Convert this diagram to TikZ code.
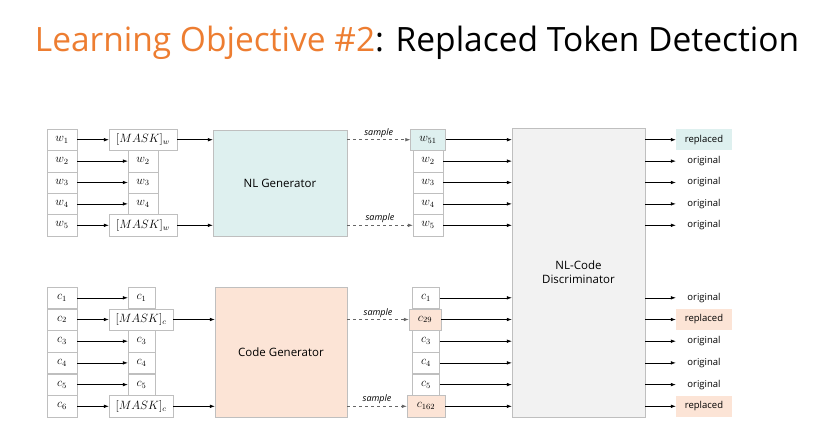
\documentclass[tikz,border=0pt]{standalone}
\usepackage{fontspec}
\setmainfont{Open Sans}
\usetikzlibrary{arrows.meta}

\definecolor{nlfill}{HTML}{DEF0EF}
\definecolor{codefill}{HTML}{FCE4D6}
\definecolor{discfill}{HTML}{F2F2F2}
\definecolor{boxgray}{HTML}{BFBFBF}
\definecolor{titleorange}{HTML}{ED7D31}

\begin{document}
\begin{tikzpicture}[x=1pt, y=-1pt,
    tok/.style={draw=boxgray, fill=white, minimum width=30pt, minimum height=21.5pt, inner sep=0pt, font=\fontsize{12}{14}\selectfont},
    gen/.style={draw=boxgray, inner sep=0pt, font=\fontsize{11.5}{13}\selectfont},
    outlab/.style={minimum width=56pt, minimum height=21pt, inner sep=0pt, font=\fontsize{9.5}{11}\selectfont},
    arr/.style={-{Latex[length=5pt,width=3.6pt]}, line width=0.6pt},
    smp/.style={arr, dashed, draw=gray!80!black},
    smplab/.style={above, inner sep=2pt, font=\fontsize{9}{10}\itshape}]
    \useasboundingbox (0,0) rectangle (830,421);

    % Title
    \node[font=\fontsize{33.5}{40}\selectfont] (title) at (417,43)
        {\textcolor{titleorange}{Learning Objective \#2}: Replaced Token Detection};

    % NL tokens
    \foreach \i/\y in {1/139.7,2/161.1,3/182.5,4/203.9,5/225.3}
        \node[tok] (w\i) at (62,\y) {$w_{\i}$};
    \node[tok, minimum width=68pt] (mw1) at (143,139.7) {$[MASK]_w$};
    \foreach \i/\y in {2/161.1,3/182.5,4/203.9}
        \node[tok] (mw\i) at (143,\y) {$w_{\i}$};
    \node[tok, minimum width=68pt] (mw5) at (143,225.3) {$[MASK]_w$};
    \node[gen, fill=nlfill, minimum width=134pt, minimum height=106pt] (gw) at (280,183) {NL Generator};

    % Code tokens
    \foreach \i/\y in {1/297.8,2/319.5,3/341.2,4/362.9,5/384.6,6/406.3}
        \node[tok] (c\i) at (62,\y) {$c_{\i}$};
    \foreach \i/\y in {1/297.8,3/341.2,4/362.9,5/384.6}
        \node[tok, minimum width=27pt] (mc\i) at (141.5,\y) {$c_{\i}$};
    \node[tok, minimum width=64pt] (mc2) at (141,319.5) {$[MASK]_c$};
    \node[tok, minimum width=64pt] (mc6) at (141,406.3) {$[MASK]_c$};
    \node[gen, fill=codefill, minimum width=132pt, minimum height=130pt] (gc) at (281,352) {Code Generator};

    % Sampled tokens
    \node[tok, fill=nlfill, minimum width=35pt] (sw1) at (428,139.7) {$w_{51}$};
    \foreach \i/\y in {2/161.1,3/182.5,4/203.9,5/225.3}
        \node[tok] (sw\i) at (428,\y) {$w_{\i}$};
    \foreach \i/\y in {1/297.8,3/341.2,4/362.9,5/384.6}
        \node[tok, minimum width=27pt] (sc\i) at (426,\y) {$c_{\i}$};
    \node[tok, fill=codefill, minimum width=32pt] (sc2) at (425,319.5) {$c_{29}$};
    \node[tok, fill=codefill, minimum width=38pt] (sc6) at (426,406.3) {$c_{162}$};

    % Discriminator
    \node[draw=boxgray, fill=discfill, minimum width=133pt, minimum height=289pt, align=center,
        font=\fontsize{11.5}{14}\selectfont] (disc) at (578.5,272.5) {NL-Code\\Discriminator};

    % Outputs
    \node[outlab, fill=nlfill] (ow1) at (704,139.7) {replaced};
    \foreach \i/\y in {2/161.1,3/182.5,4/203.9,5/225.3}
        \node[outlab] (ow\i) at (704,\y) {original};
    \foreach \i/\y in {1/297.8,3/341.2,4/362.9,5/384.6}
        \node[outlab] (oc\i) at (704,\y) {original};
    \node[outlab, fill=codefill] (oc2) at (704,319.5) {replaced};
    \node[outlab, fill=codefill] (oc6) at (704,406.3) {replaced};

    % Arrows
    \foreach \i in {1,...,5} {
        \draw[arr] (w\i) -- (mw\i);
        \draw[arr] (sw\i) -- (sw\i -| disc.west);
        \draw[arr] (disc.east |- ow\i) -- (ow\i.west);
    }
    \foreach \i in {1,...,6} {
        \draw[arr] (c\i) -- (mc\i);
        \draw[arr] (sc\i) -- (sc\i -| disc.west);
        \draw[arr] (disc.east |- oc\i) -- (oc\i.west);
    }
    \draw[arr] (mw1) -- (mw1 -| gw.west);
    \draw[arr] (mw5) -- (mw5 -| gw.west);
    \draw[arr] (mc2) -- (mc2 -| gc.west);
    \draw[arr] (mc6) -- (mc6 -| gc.west);

    % Sampling
    \draw[smp] (gw.east |- sw1) -- node[smplab] (smp1) {sample} (sw1);
    \draw[smp] (gw.east |- sw5) -- node[smplab] (smp2) {sample} (sw5);
    \draw[smp] (gc.east |- sc2) -- node[smplab] (smp3) {sample} (sc2);
    \draw[smp] (gc.east |- sc6) -- node[smplab] (smp4) {sample} (sc6);
\end{tikzpicture}
\end{document}
